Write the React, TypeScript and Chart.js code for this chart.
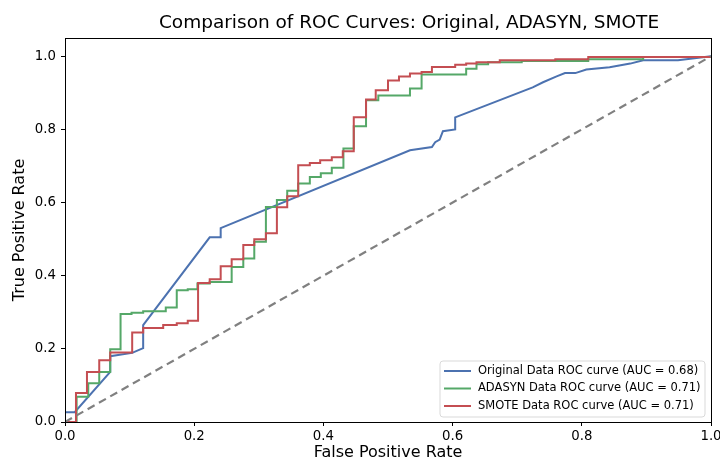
import React, { useEffect, useRef } from "react";
import { Chart, registerables } from "chart.js";

Chart.register(...registerables);

const TITLE = "Comparison of ROC Curves: Original, ADASYN, SMOTE";
const X_LABEL = "False Positive Rate";
const Y_LABEL = "True Positive Rate";

const origFpr = [0, 0, 0.015, 0.07, 0.07, 0.104, 0.121, 0.121, 0.224, 0.241, 0.241, 0.534, 0.568, 0.573, 0.58, 0.585, 0.604, 0.604, 0.724, 0.74, 0.761, 0.774, 0.79, 0.807, 0.843, 0.875, 0.895, 0.949, 1];
const origTpr = [0, 0.027, 0.027, 0.137, 0.18, 0.189, 0.202, 0.265, 0.505, 0.505, 0.53, 0.743, 0.752, 0.765, 0.772, 0.795, 0.8, 0.833, 0.915, 0.929, 0.945, 0.954, 0.954, 0.964, 0.97, 0.98, 0.989, 0.989, 1];

const adasynFpr = [0, 0.018, 0.018, 0.036, 0.036, 0.053, 0.053, 0.07, 0.07, 0.086, 0.086, 0.103, 0.103, 0.121, 0.121, 0.156, 0.156, 0.173, 0.173, 0.19, 0.19, 0.205, 0.205, 0.224, 0.224, 0.258, 0.258, 0.276, 0.276, 0.293, 0.293, 0.311, 0.311, 0.328, 0.328, 0.344, 0.344, 0.361, 0.361, 0.379, 0.379, 0.396, 0.396, 0.413, 0.413, 0.431, 0.431, 0.447, 0.447, 0.466, 0.466, 0.485, 0.485, 0.534, 0.534, 0.552, 0.552, 0.621, 0.621, 0.637, 0.637, 0.655, 0.655, 0.707, 0.707, 0.81, 0.81, 0.895, 0.895, 1, 1];
const adasynTpr = [0, 0, 0.069, 0.069, 0.106, 0.106, 0.137, 0.137, 0.199, 0.199, 0.295, 0.295, 0.299, 0.299, 0.303, 0.303, 0.313, 0.313, 0.36, 0.36, 0.363, 0.363, 0.379, 0.379, 0.383, 0.383, 0.424, 0.424, 0.447, 0.447, 0.493, 0.493, 0.588, 0.588, 0.607, 0.607, 0.632, 0.632, 0.652, 0.652, 0.67, 0.67, 0.68, 0.68, 0.695, 0.695, 0.748, 0.748, 0.809, 0.809, 0.88, 0.88, 0.893, 0.893, 0.912, 0.912, 0.95, 0.95, 0.966, 0.966, 0.978, 0.978, 0.984, 0.984, 0.987, 0.987, 0.992, 0.992, 0.998, 0.998, 1];

const smoteFpr = [0, 0.017, 0.017, 0.034, 0.034, 0.053, 0.053, 0.07, 0.07, 0.104, 0.104, 0.121, 0.121, 0.152, 0.152, 0.173, 0.173, 0.19, 0.19, 0.206, 0.206, 0.224, 0.224, 0.241, 0.241, 0.258, 0.258, 0.276, 0.276, 0.293, 0.293, 0.311, 0.311, 0.328, 0.328, 0.344, 0.344, 0.361, 0.361, 0.379, 0.379, 0.395, 0.395, 0.413, 0.413, 0.43, 0.43, 0.447, 0.447, 0.466, 0.466, 0.481, 0.481, 0.5, 0.5, 0.517, 0.517, 0.534, 0.534, 0.552, 0.552, 0.568, 0.568, 0.604, 0.604, 0.621, 0.621, 0.637, 0.637, 0.673, 0.673, 0.759, 0.759, 0.81, 0.81, 1, 1];
const smoteTpr = [0, 0, 0.079, 0.079, 0.137, 0.137, 0.169, 0.169, 0.19, 0.19, 0.245, 0.245, 0.257, 0.257, 0.265, 0.265, 0.27, 0.27, 0.277, 0.277, 0.38, 0.38, 0.39, 0.39, 0.426, 0.426, 0.445, 0.445, 0.484, 0.484, 0.5, 0.5, 0.516, 0.516, 0.587, 0.587, 0.617, 0.617, 0.702, 0.702, 0.708, 0.708, 0.716, 0.716, 0.724, 0.724, 0.74, 0.74, 0.833, 0.833, 0.882, 0.882, 0.907, 0.907, 0.934, 0.934, 0.945, 0.945, 0.953, 0.953, 0.957, 0.957, 0.971, 0.971, 0.977, 0.977, 0.98, 0.98, 0.984, 0.984, 0.989, 0.989, 0.992, 0.992, 0.998, 0.998, 1];

const diagX = [0, 1];
const diagY = [0, 1];

const SERIES_LABELS = [
  "Original Data ROC curve (AUC = 0.68)",
  "ADASYN Data ROC curve (AUC = 0.71)",
  "SMOTE Data ROC curve (AUC = 0.71)",
];
const SERIES_COLORS = ["#4C72B0", "#55A868", "#C44E52"];

const X_TICKS = [0, 0.2, 0.4, 0.6, 0.8, 1.0];
const Y_TICKS = [0, 0.2, 0.4, 0.6, 0.8, 1.0];

const FONT = '"DejaVu Sans", sans-serif';

const pts = (xs: number[], ys: number[]) => xs.map((x, i) => ({ x, y: ys[i] }));

const decorPlugin = {
  id: "decor",
  afterDraw(chart: any) {
    const { ctx, chartArea } = chart;
    const { left, right, top, bottom } = chartArea;
    ctx.save();
    // frame
    ctx.strokeStyle = "#000";
    ctx.lineWidth = 1;
    ctx.strokeRect(Math.round(left) + 0.5, Math.round(top) + 0.5, Math.round(right - left), Math.round(bottom - top));
    // title
    ctx.fillStyle = "#000";
    ctx.textAlign = "center";
    ctx.textBaseline = "middle";
    ctx.font = `18.5px ${FONT}`;
    ctx.fillText(TITLE, 409, 23);
    // axis labels
    ctx.font = `16px ${FONT}`;
    ctx.fillText(X_LABEL, (left + right) / 2, 453);
    ctx.save();
    ctx.translate(20, (top + bottom) / 2);
    ctx.rotate(-Math.PI / 2);
    ctx.fillText(Y_LABEL, 0, 0);
    ctx.restore();
    // legend
    const bx = 440, by = 361, bw = 265, bh = 56, r = 3;
    ctx.beginPath();
    ctx.moveTo(bx + r, by);
    ctx.lineTo(bx + bw - r, by);
    ctx.arcTo(bx + bw, by, bx + bw, by + r, r);
    ctx.lineTo(bx + bw, by + bh - r);
    ctx.arcTo(bx + bw, by + bh, bx + bw - r, by + bh, r);
    ctx.lineTo(bx + r, by + bh);
    ctx.arcTo(bx, by + bh, bx, by + bh - r, r);
    ctx.lineTo(bx, by + r);
    ctx.arcTo(bx, by, bx + r, by, r);
    ctx.closePath();
    ctx.fillStyle = "rgba(255,255,255,0.8)";
    ctx.fill();
    ctx.strokeStyle = "#d9d9d9";
    ctx.lineWidth = 1;
    ctx.stroke();
    ctx.font = `11.5px ${FONT}`;
    ctx.textAlign = "left";
    SERIES_LABELS.forEach((lab, i) => {
      const y = by + 10 + i * 17.5;
      ctx.strokeStyle = SERIES_COLORS[i];
      ctx.lineWidth = 2;
      ctx.beginPath();
      ctx.moveTo(bx + 4, y);
      ctx.lineTo(bx + 31, y);
      ctx.stroke();
      ctx.fillStyle = "#000";
      ctx.fillText(lab, bx + 38, y);
    });
    ctx.restore();
  },
};

export default function App() {
  const ref = useRef<HTMLCanvasElement | null>(null);
  useEffect(() => {
    if (!ref.current) return;
    const chart = new Chart(ref.current, {
      type: "line",
      data: {
        datasets: [
          { label: SERIES_LABELS[0], data: pts(origFpr, origTpr), borderColor: SERIES_COLORS[0], order: 4 },
          { label: SERIES_LABELS[1], data: pts(adasynFpr, adasynTpr), borderColor: SERIES_COLORS[1], order: 3 },
          { label: SERIES_LABELS[2], data: pts(smoteFpr, smoteTpr), borderColor: SERIES_COLORS[2], order: 2 },
          { label: "diag", data: pts(diagX, diagY), borderColor: "#808080", borderDash: [8, 5], borderWidth: 2.2, order: 1 },
        ] as any,
      },
      options: {
        animation: false,
        responsive: false,
        parsing: false as any,
        elements: {
          point: { radius: 0 },
          line: { borderWidth: 2, tension: 0, fill: false },
        },
        layout: { padding: { left: 0, right: 9, top: 38, bottom: 0 } },
        plugins: {
          legend: { display: false },
          tooltip: { enabled: false },
          title: { display: false },
        },
        scales: {
          x: {
            type: "linear",
            min: 0,
            max: 1,
            afterFit: (s: any) => { s.height = 40; s.paddingLeft = 0; s.paddingRight = 0; },
            afterBuildTicks: (s: any) => { s.ticks = X_TICKS.map((v) => ({ value: v })); },
            grid: { drawOnChartArea: false, drawTicks: true, tickLength: 4, color: "#000" },
            border: { display: true, color: "#000" },
            ticks: { color: "#000", font: { family: FONT, size: 13.3 }, padding: 3, maxRotation: 0, callback: (v: any) => Number(v).toFixed(1) },
          },
          y: {
            type: "linear",
            min: 0,
            max: 1.05,
            afterFit: (s: any) => { s.width = 65; s.paddingTop = 0; s.paddingBottom = 0; },
            afterBuildTicks: (s: any) => { s.ticks = Y_TICKS.map((v) => ({ value: v })); },
            grid: { drawOnChartArea: false, drawTicks: true, tickLength: 4, color: "#000" },
            border: { display: true, color: "#000" },
            ticks: { color: "#000", font: { family: FONT, size: 13.3 }, padding: 5, callback: (v: any) => Number(v).toFixed(1) },
          },
        } as any,
      },
      plugins: [decorPlugin],
    });
    return () => chart.destroy();
  }, []);
  return (
    <div style={{ position: "fixed", left: 0, top: 0, width: 720, height: 462, background: "#fff" }}>
      <canvas ref={ref} width={720} height={462} style={{ width: 720, height: 462, display: "block" }} />
    </div>
  );
}
